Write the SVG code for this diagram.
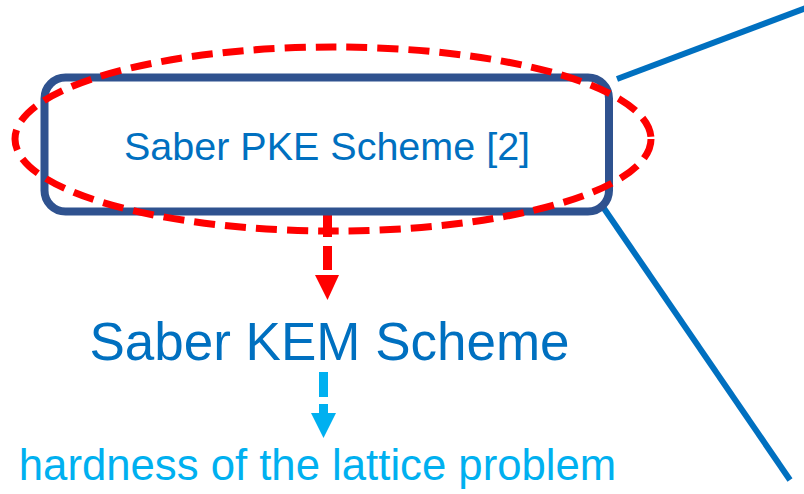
<svg xmlns="http://www.w3.org/2000/svg" width="804" height="494" viewBox="0 0 804 494">
<style>
.t{font-family:"Liberation Sans",Arial,sans-serif;text-anchor:middle}
.blue{fill:#0070C0}
.cyan{fill:#00B0F0}
.conn{stroke:#0070C0;stroke-width:6;fill:none}
</style>
<rect width="804" height="494" fill="#fff"/>
<g id="connectors">
<line class="conn" x1="617" y1="79" x2="806" y2="8"/>
<line class="conn" x1="603" y1="207" x2="790" y2="480"/>
<line x1="327.5" y1="213" x2="327.5" y2="271" stroke="#FF0000" stroke-width="9" stroke-dasharray="24,9"/>
<polygon points="315,275 339,275 327.5,300" fill="#FF0000"/>
<line x1="323.5" y1="372" x2="323.5" y2="414" stroke="#00B0F0" stroke-width="9" stroke-dasharray="25,7"/>
<polygon points="311,413 336,413 323.5,438" fill="#00B0F0"/>
</g>
<g id="pke">
<rect x="44.5" y="77.5" width="564.5" height="134" rx="21" fill="none" stroke="#2F528F" stroke-width="8"/>
<ellipse cx="333" cy="139" rx="318" ry="92" fill="none" stroke="#FF0000" stroke-width="7" stroke-dasharray="21,10"/>
<text class="t blue" x="327" y="160" font-size="39.5">Saber PKE Scheme [2]</text>
</g>
<g id="kem">
<text class="t blue" x="329.5" y="360" font-size="53">Saber KEM Scheme</text>
</g>
<g id="hardness">
<text class="t cyan" x="317.5" y="480" font-size="43.7">hardness of the lattice problem</text>
</g>
</svg>
